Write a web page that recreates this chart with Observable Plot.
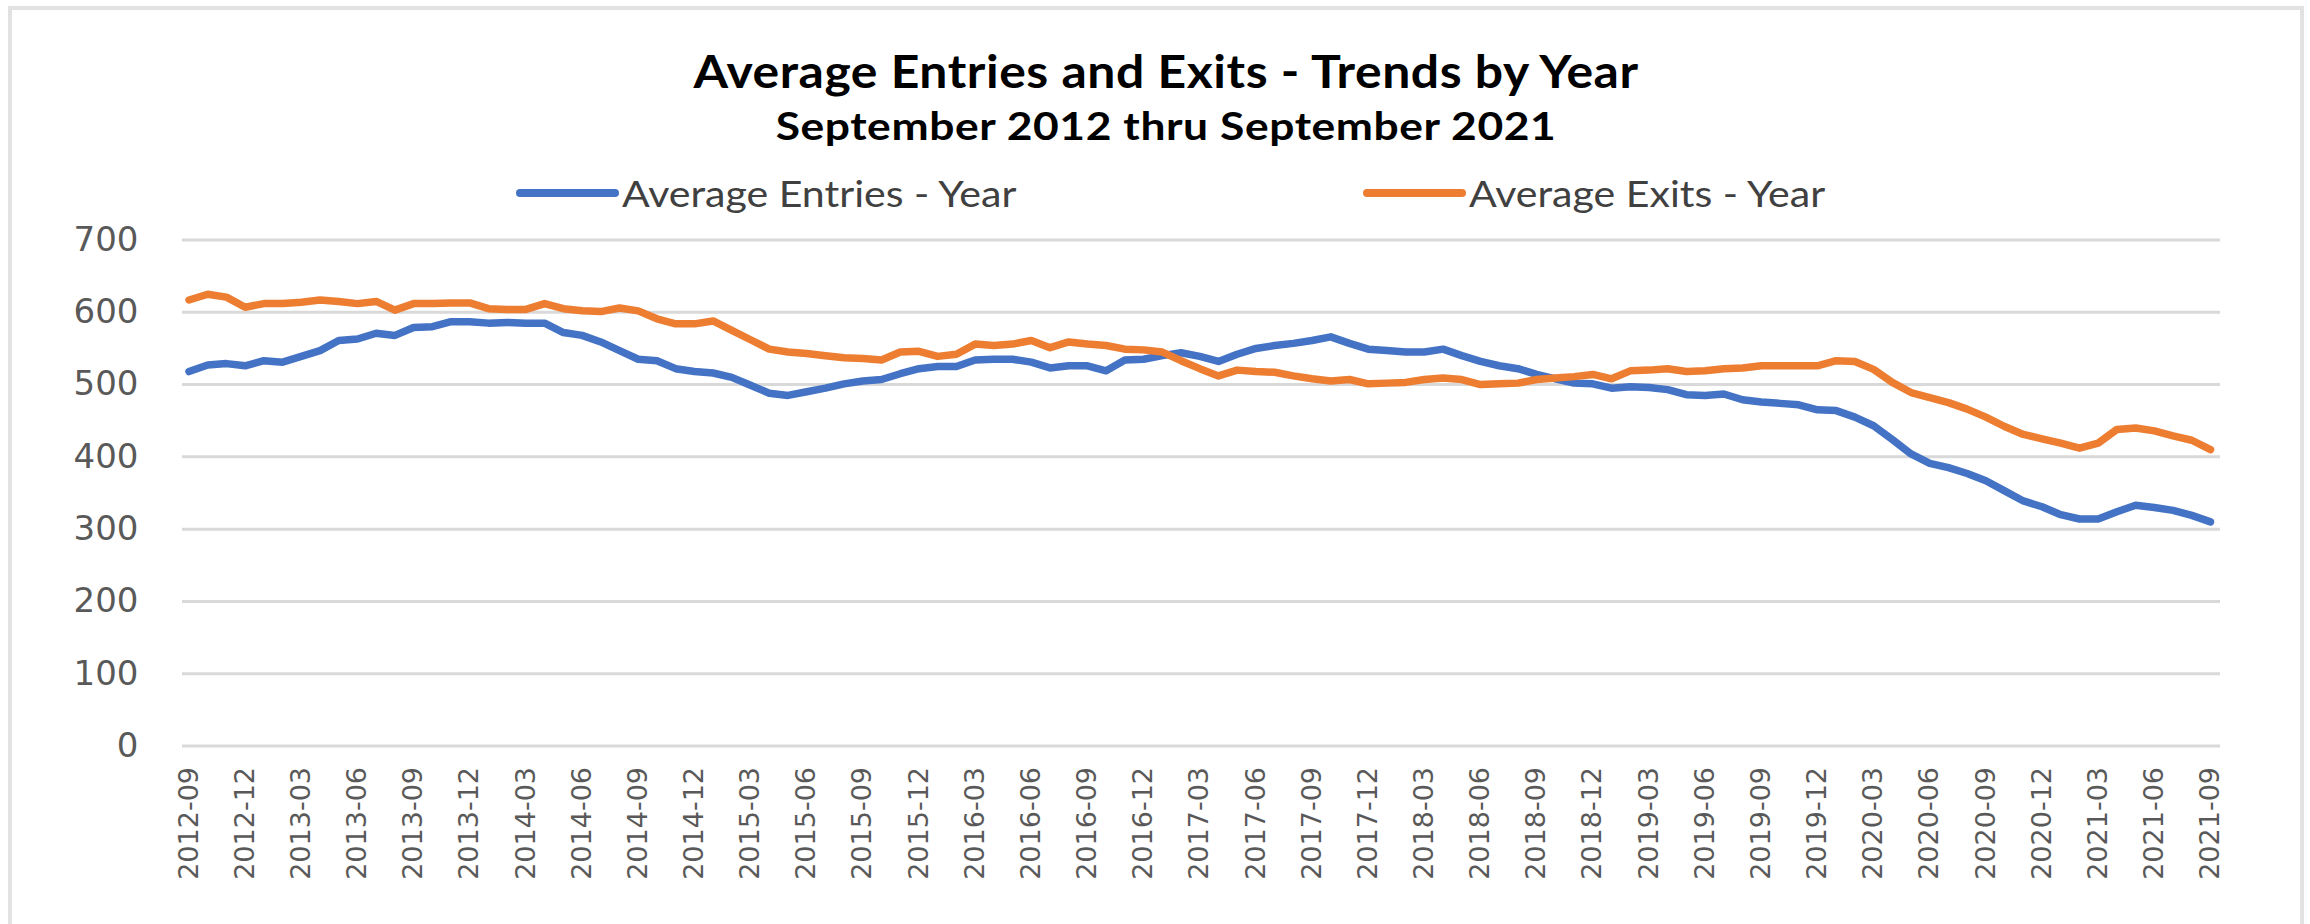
<!DOCTYPE html>
<html>
<head>
<meta charset="utf-8">
<script src="https://cdn.jsdelivr.net/npm/d3@7"></script>
<script src="https://cdn.jsdelivr.net/npm/@observablehq/plot@0.6"></script>
<style>
  html, body { margin: 0; padding: 0; background: #fff; }
  #page { position: relative; width: 2310px; height: 924px; overflow: hidden; background: #fff; }
  #frame { position: absolute; left: 8px; top: 6px; width: 2288px; height: 960px; border: 4px solid #e2e2e2; }
  .title { position: absolute; left: 1166px; white-space: nowrap;
           font-family: Lato, "Open Sans", sans-serif; font-weight: 700; color: #000; transform-origin: center; }
  #t1 { top: 44px; font-size: 45px; line-height: 54px; letter-spacing: 0.5px; transform: translateX(-50%) scaleX(1.108); }
  #t2 { top: 102px; font-size: 39px; line-height: 47px; letter-spacing: 0.5px; transform: translateX(-50%) scaleX(1.138); }
  .sw { position: absolute; height: 8px; border-radius: 4px; top: 189px; width: 103px; }
  .lt { position: absolute; top: 172px; font-family: Lato, "Open Sans", sans-serif; font-size: 37px;
        line-height: 42px; color: #404040; white-space: nowrap; transform-origin: left center; transform: scaleX(1.11); }
  #chart { position: absolute; left: 0; top: 200px; }
</style>
</head>
<body>
<div id="page">
  <div id="frame"></div>
  <div class="title" id="t1">Average Entries and Exits - Trends by Year</div>
  <div class="title" id="t2">September 2012 thru September 2021</div>
  <div class="sw" style="left:516px;background:#4472C4"></div>
  <div class="lt" style="left:622px">Average Entries - Year</div>
  <div class="sw" style="left:1363px;background:#ED7D31"></div>
  <div class="lt" style="left:1469px">Average Exits - Year</div>
  <div id="chart"></div>
</div>
<script>
const months = [
  "2012-09","2012-10","2012-11","2012-12",
  "2013-01","2013-02","2013-03","2013-04","2013-05","2013-06","2013-07","2013-08","2013-09","2013-10","2013-11","2013-12",
  "2014-01","2014-02","2014-03","2014-04","2014-05","2014-06","2014-07","2014-08","2014-09","2014-10","2014-11","2014-12",
  "2015-01","2015-02","2015-03","2015-04","2015-05","2015-06","2015-07","2015-08","2015-09","2015-10","2015-11","2015-12",
  "2016-01","2016-02","2016-03","2016-04","2016-05","2016-06","2016-07","2016-08","2016-09","2016-10","2016-11","2016-12",
  "2017-01","2017-02","2017-03","2017-04","2017-05","2017-06","2017-07","2017-08","2017-09","2017-10","2017-11","2017-12",
  "2018-01","2018-02","2018-03","2018-04","2018-05","2018-06","2018-07","2018-08","2018-09","2018-10","2018-11","2018-12",
  "2019-01","2019-02","2019-03","2019-04","2019-05","2019-06","2019-07","2019-08","2019-09","2019-10","2019-11","2019-12",
  "2020-01","2020-02","2020-03","2020-04","2020-05","2020-06","2020-07","2020-08","2020-09","2020-10","2020-11","2020-12",
  "2021-01","2021-02","2021-03","2021-04","2021-05","2021-06","2021-07","2021-08","2021-09"
];

const entries = [
  518,527,529,526,
  533,531,539,547,561,563,571,568,579,580,587,587,
  585,586,585,585,572,568,559,547,535,533,522,518,
  516,510,499,488,485,490,495,501,505,507,515,522,
  525,525,534,535,535,531,523,526,526,519,534,535,
  540,544,539,532,542,550,554,557,561,566,557,549,
  547,545,545,549,540,532,526,522,514,508,502,501,
  495,497,496,493,486,485,487,479,476,474,472,465,
  464,455,443,424,404,391,385,377,367,353,339,331,
  320,314,314,324,333,330,326,319,310
];

const exits = [
  617,625,621,607,
  612,612,614,617,615,612,615,603,612,612,613,613,
  605,604,604,612,605,602,601,606,602,591,584,584,
  588,575,562,549,545,543,540,537,536,534,545,546,
  539,542,556,554,556,561,551,559,556,554,549,548,
  545,533,522,512,520,518,517,512,508,505,507,501,
  502,503,507,509,507,500,501,502,507,509,511,514,
  508,519,520,522,518,519,522,523,526,526,526,526,
  533,532,521,503,489,482,475,466,455,442,431,425,
  419,412,419,438,440,436,429,423,410
];

const seriesNames = ["Average Entries - Year", "Average Exits - Year"];
const seriesColors = ["#4472C4", "#ED7D31"];

const xTickLabels = [
  "2012-09","2012-12","2013-03","2013-06","2013-09","2013-12","2014-03","2014-06","2014-09","2014-12",
  "2015-03","2015-06","2015-09","2015-12","2016-03","2016-06","2016-09","2016-12","2017-03","2017-06",
  "2017-09","2017-12","2018-03","2018-06","2018-09","2018-12","2019-03","2019-06","2019-09","2019-12",
  "2020-03","2020-06","2020-09","2020-12","2021-03","2021-06","2021-09"
];
const yTicks = [0, 100, 200, 300, 400, 500, 600, 700];

const data = [
  ...months.map((m, i) => ({month: m, value: entries[i], series: seriesNames[0]})),
  ...months.map((m, i) => ({month: m, value: exits[i], series: seriesNames[1]}))
];

const chart = Plot.plot({
  width: 2310,
  height: 724,
  marginLeft: 182,
  marginRight: 90,
  marginTop: 39.5,
  marginBottom: 178.5,
  style: {background: "transparent", overflow: "visible"},
  x: {type: "point", domain: months, padding: 0, insetLeft: 6.5, insetRight: 10},
  y: {domain: [0, 700]},
  color: {domain: seriesNames, range: seriesColors},
  marks: [
    Plot.ruleY(yTicks, {stroke: "#d9d9d9", strokeWidth: 3}),
    Plot.axisY({ticks: yTicks, tickSize: 0, tickPadding: 44, label: null,
      fontSize: 34, fontFamily: "DejaVu Sans", fill: "#595959"}),
    Plot.axisX({ticks: xTickLabels, tickSize: 0, tickPadding: 21, tickRotate: -90, label: null,
      fontSize: 27, fontFamily: "DejaVu Sans", fill: "#595959"}),
    Plot.line(data, {x: "month", y: "value", stroke: "series", z: "series",
      strokeWidth: 7.5, strokeLinejoin: "round", strokeLinecap: "round"})
  ]
});
document.getElementById("chart").appendChild(chart);
</script>
</body>
</html>
